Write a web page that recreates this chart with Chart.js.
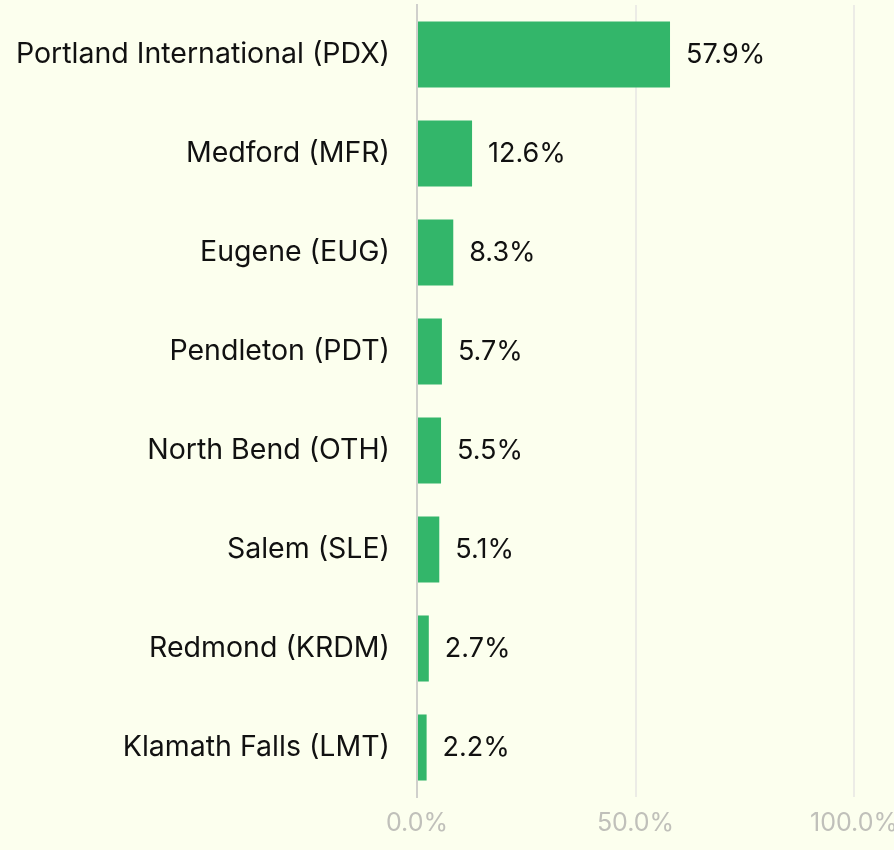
<!DOCTYPE html>
<html>
<head>
<meta charset="utf-8">
<script src="https://cdn.jsdelivr.net/npm/chart.js@4/dist/chart.umd.min.js"></script>
<style>
  html, body { margin: 0; padding: 0; background: #fcffee; }
  #wrap { width: 894px; height: 850px; }
</style>
</head>
<body>
<div id="wrap"><canvas id="airportChart"></canvas></div>
<script>
const airports = [
    "Portland International (PDX)",
    "Medford (MFR)",
    "Eugene (EUG)",
    "Pendleton (PDT)",
    "North Bend (OTH)",
    "Salem (SLE)",
    "Redmond (KRDM)",
    "Klamath Falls (LMT)"
];
const shares = [57.9, 12.6, 8.3, 5.7, 5.5, 5.1, 2.7, 2.2];
const xTicks = [0, 50, 100];

// labels drawn right of each bar
const valueLabels = {
    id: "valueLabels",
    afterDatasetsDraw(chart) {
        const ctx = chart.ctx;
        const meta = chart.getDatasetMeta(0);
        ctx.save();
        ctx.font = "27px Inter";
        ctx.fillStyle = "#111";
        ctx.textBaseline = "middle";
        meta.data.forEach((bar, i) => {
            ctx.fillText(shares[i].toFixed(1) + "%", bar.x + 16, bar.y);
        });
        ctx.restore();
    }
};

const ctx = document.getElementById("airportChart").getContext("2d");
new Chart(ctx, {
    type: "bar",
    data: {
        labels: airports,
        datasets: [{
            data: shares,
            backgroundColor: "#33b66a",
            barPercentage: 0.667,
            categoryPercentage: 1.0
        }]
    },
    options: {
        indexAxis: "y",
        responsive: true,
        maintainAspectRatio: false,
        animation: false,
        layout: { padding: { top: 5, right: 0, bottom: 0, left: 0 } },
        plugins: {
            legend: { display: false },
            tooltip: { enabled: false }
        },
        scales: {
            x: {
                min: 0,
                max: 100,
                afterBuildTicks: axis => { axis.ticks = xTicks.map(v => ({ value: v })); },
                afterFit: axis => { axis.paddingRight = 40; axis.paddingLeft = 0; },
                grid: { color: "#ecece6", lineWidth: 2, drawTicks: false },
                border: { display: false },
                ticks: {
                    color: "#c0c0ba",
                    font: { family: "Inter", size: 25, lineHeight: 1.0 },
                    padding: 14,
                    callback: v => v.toFixed(1) + "%"
                }
            },
            y: {
                afterFit: axis => { axis.width = 417; },
                grid: { display: false, drawTicks: true, tickLength: 27 },
                border: { color: "#d0d0cc", width: 2 },
                ticks: {
                    color: "#111",
                    font: { family: "Inter", size: 28.5, lineHeight: 0.3 },
                    padding: 0
                }
            }
        }
    },
    plugins: [valueLabels]
});
</script>
</body>
</html>
